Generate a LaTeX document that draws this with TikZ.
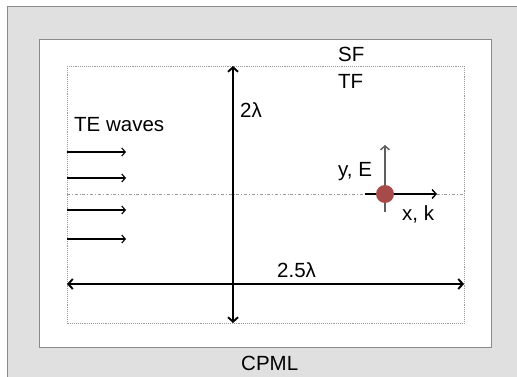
\documentclass[tikz,border=0pt]{standalone}
\usepackage{fontspec}
\setmainfont{Liberation Sans}
\usetikzlibrary{arrows.meta}
\definecolor{pmlgray}{HTML}{E0E0E0}
\definecolor{edge}{HTML}{8A8A8A}
\definecolor{dotline}{HTML}{9A9A9A}
\definecolor{charge}{HTML}{A64A4A}
\definecolor{fieldgray}{HTML}{5E5E5E}

\begin{document}
\begin{tikzpicture}[x=1pt,y=-1pt,line cap=butt,line join=miter]
  \tikzset{
    lab/.style={anchor=base west,inner sep=0pt,font=\fontsize{20.5}{24}\selectfont},
    dimarrow/.style={black,line width=1.9pt,{Straight Barb[length=4.5pt,width=10pt]}-{Straight Barb[length=4.5pt,width=10pt]}},
    wavearrow/.style={black,line width=1.1pt,-{Straight Barb[length=3.5pt,width=8pt]}},
    fieldarrow/.style={line width=1.4pt,-{Straight Barb[length=4pt,width=9pt]}}
  }
  \useasboundingbox (0,0) rectangle (517,377);

  % CPML region and scattered-field region.
  \fill[pmlgray] (7,7) rectangle (517,377);
  \draw[edge,line width=1pt] (7,377)--(7,7)--(517,7);
  \draw[edge,fill=white,line width=1pt] (39,40) rectangle (491,347);

  % Total-field box.
  \coordinate (tfnw) at (67,66);
  \coordinate (tfse) at (464,323);
  \draw[dotline,line width=0.9pt,densely dotted] (tfnw) rectangle (tfse);
  \draw[dotline,line width=0.7pt,dash dot] (67,194)--(464,194);

  % Dimensions.
  \coordinate (ytop) at (233,66);
  \coordinate (ybot) at (233,323);
  \coordinate (xleft) at (67,284);
  \coordinate (xright) at (464,284);
  \draw[dimarrow] (ybot)--(ytop);
  \draw[dimarrow] (xleft)--(xright);

  % Incident waves.
  \foreach \yy/\nm in {152/w1,178/w2,210/w3,239/w4}{
    \coordinate (\nm a) at (67,\yy);
    \coordinate (\nm b) at (126,\yy);
    \draw[wavearrow] (\nm a)--(\nm b);
  }

  % Field orientation at the observation point.
  \coordinate (obs) at (385,194);
  \coordinate (etip) at (385,145);
  \coordinate (etail) at (385,212);
  \coordinate (ktail) at (365,194);
  \coordinate (ktip) at (437,194);
  \draw[fieldarrow,fieldgray] (etail)--(etip);
  \draw[fieldarrow,black] (ktail)--(ktip);
  \fill[charge] (obs) circle (9);

  % Labels.
  \node[lab] (sf) at (338,62) {SF};
  \node[lab] (tf) at (338,89) {TF};
  \node[lab] (ylen) at (240,118) {2λ};
  \node[lab] (te) at (74,132) {TE waves};
  \node[lab] (xlen) at (277,277) {2.5λ};
  \node[lab] (ye) at (338,176) {y, E};
  \node[lab] (xk) at (402,220) {x, k};
  \node[lab] (cpml) at (241,370) {CPML};
\end{tikzpicture}
\end{document}
